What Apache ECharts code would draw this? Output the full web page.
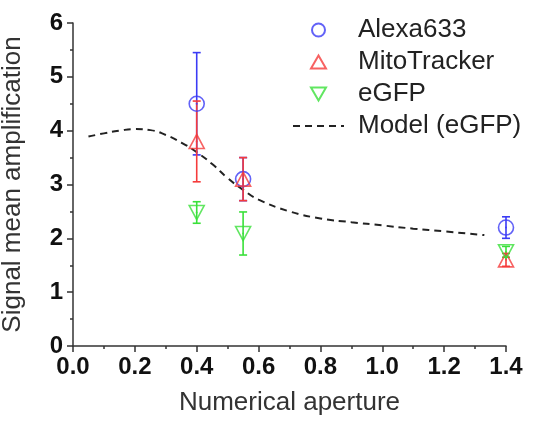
<!DOCTYPE html>
<html>
<head>
<meta charset="utf-8">
<script src="https://cdn.jsdelivr.net/npm/echarts@6/dist/echarts.min.js"></script>
<style>
html, body { margin: 0; padding: 0; background: #fff; }
#chart { width: 536px; height: 423px; }
</style>
</head>
<body>
<div id="chart"></div>
<script>
// measured values
var apertures = [0.4, 0.55, 1.4];
var alexaMean = [4.5, 3.1, 2.2];
var alexaErr = [0.95, 0.4, 0.2];
var mitoMean = [3.8, 3.1, 1.6];
var mitoErr = [0.75, 0.4, 0.12];
var gfpMean = [2.48, 2.09, 1.75];
var gfpErr = [0.2, 0.4, 0.1];
// model curve (eGFP)
var modelNA = [0.05, 0.1, 0.15, 0.2, 0.25, 0.3, 0.35, 0.4, 0.45, 0.5, 0.55, 0.6, 0.7, 0.8, 0.9, 1.0, 1.1, 1.2, 1.33];
var modelVal = [3.89, 3.95, 4.0, 4.03, 4.01, 3.92, 3.78, 3.6, 3.38, 3.12, 2.9, 2.72, 2.5, 2.37, 2.3, 2.24, 2.18, 2.13, 2.06];

var BLUE = '#3b3bf5';
var RED = '#f53b3b';
var GREEN = '#3ae03a';
var FONT = 'Liberation Sans, Arial, sans-serif';
var TRI_UP = 'path://M5,0 L10,8.66 L0,8.66 Z';
var TRI_DOWN = 'path://M0,0 L10,0 L5,8.66 Z';

function pairs(xs, ys) {
    return xs.map(function (x, i) { return [x, ys[i]]; });
}

//误差线
function errorBars(name, mean, err, color) {
    return {
        name: name,
        type: 'custom',
        silent: true,
        z: 3,
        data: apertures.map(function (x, i) { return [x, mean[i] - err[i], mean[i] + err[i]]; }),
        encode: {x: 0, y: [1, 2]},
        renderItem: function (params, api) {
            var lo = api.coord([api.value(0), api.value(1)]);
            var hi = api.coord([api.value(0), api.value(2)]);
            var w = 4;
            var st = {stroke: color, lineWidth: 1.6, fill: null};
            return {
                type: 'group',
                children: [
                    {type: 'line', shape: {x1: lo[0], y1: lo[1], x2: hi[0], y2: hi[1]}, style: st},
                    {type: 'line', shape: {x1: lo[0] - w, y1: lo[1], x2: lo[0] + w, y2: lo[1]}, style: st},
                    {type: 'line', shape: {x1: hi[0] - w, y1: hi[1], x2: hi[0] + w, y2: hi[1]}, style: st}
                ]
            };
        }
    };
}

function markers(name, mean, color, symbol, size) {
    return {
        name: name,
        type: 'scatter',
        z: 4,
        symbol: symbol,
        symbolSize: size,
        data: pairs(apertures, mean),
        itemStyle: {color: 'rgba(255,255,255,0)', borderColor: color, borderWidth: 1.6}
    };
}

//符号中心的小点
function centerDots(name, mean, color) {
    return {
        name: name,
        type: 'scatter',
        silent: true,
        z: 5,
        symbol: 'circle',
        symbolSize: 2,
        data: pairs(apertures, mean),
        itemStyle: {color: color}
    };
}

var myChart = echarts.init(document.getElementById('chart'));
var option = {
    animation: false,
    grid: {left: 73, right: 30, top: 23, bottom: 77, outerBoundsMode: 'none'},
    legend: {
        orient: 'vertical',
        left: 292,
        top: 17,
        padding: 0,
        itemWidth: 51,
        itemHeight: 13,
        itemGap: 6,
        symbolKeepAspect: true,
        textStyle: {fontFamily: FONT, fontSize: 26, color: '#222', padding: [0, 0, 0, 9]},
        data: [
            {name: 'Alexa633', icon: 'circle'},
            {name: 'MitoTracker', icon: TRI_UP},
            {name: 'eGFP', icon: TRI_DOWN},
            {name: 'Model (eGFP)', itemStyle: {opacity: 0}}
        ]
    },
    xAxis: {
        type: 'value',
        min: 0,
        max: 1.4,
        interval: 0.2,
        name: 'Numerical aperture',
        nameLocation: 'middle',
        nameGap: 44,
        nameTextStyle: {fontFamily: FONT, fontSize: 26, color: '#333'},
        axisLine: {lineStyle: {color: '#333', width: 1.5}},
        axisTick: {length: 6, lineStyle: {color: '#333', width: 1.5}},
        minorTick: {show: true, splitNumber: 2, length: 3, lineStyle: {color: '#333', width: 1.5}},
        splitLine: {show: false},
        axisLabel: {
            fontFamily: FONT, fontSize: 24, fontWeight: 'bold', color: '#111', margin: 9,
            formatter: function (v) { return v.toFixed(1); }
        }
    },
    yAxis: {
        type: 'value',
        min: 0,
        max: 6,
        interval: 1,
        name: 'Signal mean amplification',
        nameLocation: 'middle',
        nameGap: 47,
        nameTextStyle: {fontFamily: FONT, fontSize: 26, color: '#333'},
        axisLine: {show: true, lineStyle: {color: '#333', width: 1.5}},
        axisTick: {show: true, length: 6, lineStyle: {color: '#333', width: 1.5}},
        minorTick: {show: true, splitNumber: 2, length: 3, lineStyle: {color: '#333', width: 1.5}},
        splitLine: {show: false},
        axisLabel: {fontFamily: FONT, fontSize: 24, fontWeight: 'bold', color: '#111', margin: 10}
    },
    series: [
        markers('Alexa633', alexaMean, BLUE, 'circle', 15),
        markers('MitoTracker', mitoMean, RED, 'triangle', [15, 14]),
        markers('eGFP', gfpMean, GREEN, TRI_DOWN, [15, 14]),
        {
            name: 'Model (eGFP)',
            type: 'line',
            symbol: 'none',
            smooth: true,
            z: 2,
            data: pairs(modelNA, modelVal),
            lineStyle: {color: '#222', width: 2, type: [7, 5]}
        },
        errorBars('Alexa633 err', alexaMean, alexaErr, BLUE),
        errorBars('MitoTracker err', mitoMean, mitoErr, RED),
        errorBars('eGFP err', gfpMean, gfpErr, GREEN),
        centerDots('Alexa633 dot', alexaMean, BLUE),
        centerDots('MitoTracker dot', mitoMean, RED),
        centerDots('eGFP dot', gfpMean, GREEN)
    ]
};
myChart.setOption(option);
</script>
</body>
</html>
